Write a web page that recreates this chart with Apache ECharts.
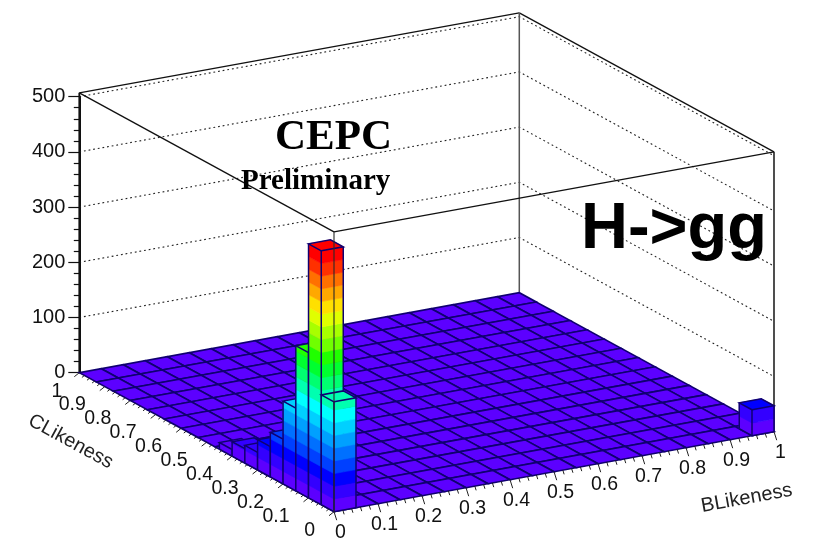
<!DOCTYPE html>
<html>
<head>
<meta charset="utf-8">
<style>html,body{margin:0;padding:0;background:#fff}#c{width:814px;height:538px}</style>
<script src="https://cdn.jsdelivr.net/npm/echarts@6/dist/echarts.min.js"></script>
</head>
<body>
<div id="c"></div>
<script>
// ---- data ----
const zTicks = [0, 100, 200, 300, 400, 500];
const bTickLabels = ['0', '0.1', '0.2', '0.3', '0.4', '0.5', '0.6', '0.7', '0.8', '0.9', '1'];
const cTickLabels = ['0', '0.1', '0.2', '0.3', '0.4', '0.5', '0.6', '0.7', '0.8', '0.9', '1'];
const binCount = 20;
const floorCols = 20;
const floorRows = 15;
const zBoxTop = 507;
const levelStep = 23;
// entries for BLikeness bin 0, CLikeness bins 0..8
const firstRowValues = [199, 460, 263, 150, 81, 55, 32, 26, 12];
// entry for BLikeness bin 19, CLikeness bin 0
const cornerBarValue = 47;
const palette = ['#5c00ff','#3300ff','#0000ff','#0040ff','#0070ff','#00a0ff','#00d0ff','#00ffff','#00ffb0','#00ff70',
                 '#00ff30','#20ff00','#70ff00','#a8ff00','#e0ff00','#ffe000','#ffa800','#ff7000','#ff3000','#ff0000'];

// ---- oblique view of the box, expressed in the units of the chart's axes ----
const viewB = 440, viewC = 254.7, viewW = 694.7, riseB = 80, riseC = 139, pxPerZ = 276 / 500;
function at(api, b, c, z) {
  const xv = (viewC * (1 - c) + viewB * b) / viewW;
  const yv = z + (riseB * b - riseC * (1 - c)) / pxPerZ;
  return api.coord([xv, yv]);
}

// floor cells, then the filled bins back to front
const floorCells = [];
for (let i = floorCols - 1; i >= 0; i--) {
  for (let j = floorRows - 1; j >= 0; j--) floorCells.push([i, j]);
}
const bins = [[binCount - 1, 0, cornerBarValue]];
for (let j = firstRowValues.length - 1; j >= 0; j--) bins.push([0, j, firstRowValues[j]]);

const OUTLINE = '#100070';
function renderFloor(params, api) {
  const i = api.value(0), j = api.value(1);
  const pts = [at(api, i / floorCols, j / floorRows, 0), at(api, (i + 1) / floorCols, j / floorRows, 0),
               at(api, (i + 1) / floorCols, (j + 1) / floorRows, 0), at(api, i / floorCols, (j + 1) / floorRows, 0)];
  return {type: 'polygon', silent: true, shape: {points: pts},
    style: {fill: palette[0], stroke: OUTLINE, lineWidth: 1.6}};
}
function renderBin(params, api) {
  const i = api.value(0), j = api.value(1), v = api.value(2);
  const w = 1 / binCount;
  const b0 = i * w, b1 = (i + 1) * w, c0 = j * w, c1 = (j + 1) * w;
  const kids = [];
  const poly = (pts, col) => kids.push({type: 'polygon', silent: true, shape: {points: pts},
    style: {fill: col, stroke: col, lineWidth: 0.6}});
  const edge = (pts, lw) => kids.push({type: 'polyline', silent: true, shape: {points: pts},
    style: {fill: null, stroke: OUTLINE, lineWidth: lw}});
  const n = Math.ceil(v / levelStep);
  for (let k = 0; k < n; k++) {
    const lo = k * levelStep, hi = Math.min(v, (k + 1) * levelStep);
    const col = palette[Math.min(k, palette.length - 1)];
    poly([at(api, b0, c0, lo), at(api, b0, c1, lo), at(api, b0, c1, hi), at(api, b0, c0, hi)], col);
    poly([at(api, b0, c0, lo), at(api, b1, c0, lo), at(api, b1, c0, hi), at(api, b0, c0, hi)], col);
  }
  const T = [at(api, b0, c0, v), at(api, b1, c0, v), at(api, b1, c1, v), at(api, b0, c1, v)];
  poly(T, palette[Math.min(n - 1, palette.length - 1)]);
  const lw = 1.5;
  edge([T[0], T[1], T[2], T[3], T[0]], lw);
  edge([at(api, b0, c1, 0), at(api, b0, c1, v)], lw);
  edge([at(api, b0, c0, 0), at(api, b0, c0, v)], lw);
  edge([at(api, b1, c0, 0), at(api, b1, c0, v)], lw);
  edge([at(api, b0, c1, 0), at(api, b0, c0, 0), at(api, b1, c0, 0)], lw);
  return {type: 'group', children: kids};
}

function renderGrid(params, api) {
  const z = api.value(0);
  if (z === 0) return {type: 'group', children: []};
  const dot = {stroke: '#222', lineWidth: 1.1, lineDash: [1.8, 2.9], fill: null};
  return {type: 'polyline', silent: true, shape: {points: [at(api, 0, 1, z), at(api, 1, 1, z), at(api, 1, 0, z)]}, style: dot};
}

// box edges, as [b,c,z, b,c,z, width, colour]
const backEdges = [
  [0, 1, zBoxTop, 1, 1, zBoxTop, 1.3, '#111'],
  [1, 1, zBoxTop, 1, 0, zBoxTop, 1.3, '#111'],
  [1, 1, 0, 1, 1, zBoxTop, 1.5, '#555'],
  [1, 0, 0, 1, 0, zBoxTop, 1.6, '#222'],
  [0, 1, 0, 0, 1, zBoxTop, 1.8, '#111']
];
const frontEdges = [
  [0, 1, zBoxTop, 0, 0, zBoxTop, 1.3, '#111'],
  [0, 0, zBoxTop, 1, 0, zBoxTop, 1.3, '#111'],
  [0, 0, 0, 0, 0, zBoxTop, 1.3, 'rgba(40,40,40,0.85)']
];
const edgeStyles = {back: backEdges, front: frontEdges};
function renderEdge(params, api) {
  const p = at(api, api.value(0), api.value(1), api.value(2));
  const q = at(api, api.value(3), api.value(4), api.value(5));
  return {type: 'line', silent: true, shape: {x1: p[0], y1: p[1], x2: q[0], y2: q[1]},
    style: {stroke: edgeStyles[params.seriesName][params.dataIndex][7], lineWidth: api.value(6)}};
}

const AXIS_FONT = '19.5px "Liberation Sans", Arial, sans-serif';
const minorPerMajor = 5;
const tickRows = [];
for (let t = 0; t <= (bTickLabels.length - 1) * minorPerMajor; t++) tickRows.push([t]);

function renderBTick(params, api) {
  const t = api.value(0), major = t % minorPerMajor === 0;
  const f = t / ((bTickLabels.length - 1) * minorPerMajor);
  const p = at(api, f, 0, 0), s = major ? 1 : 0.5;
  const kids = [{type: 'line', silent: true,
    shape: {x1: p[0], y1: p[1], x2: p[0] + 2.7 * s, y2: p[1] + 8.5 * s},
    style: {stroke: '#222', lineWidth: 1}}];
  if (major) kids.push({type: 'text', silent: true, style: {x: p[0] + 6.5, y: p[1] + 21,
    text: bTickLabels[t / minorPerMajor], font: AXIS_FONT, fill: '#111',
    align: 'center', verticalAlign: 'middle', textAlign: 'center', textBaseline: 'middle'}});
  return {type: 'group', children: kids};
}
function renderCTick(params, api) {
  const t = api.value(0), major = t % minorPerMajor === 0;
  const f = t / ((cTickLabels.length - 1) * minorPerMajor);
  const p = at(api, 0, f, 0), s = major ? 1 : 0.5;
  const kids = [{type: 'line', silent: true,
    shape: {x1: p[0], y1: p[1], x2: p[0] - 5 * s, y2: p[1] + 4 * s},
    style: {stroke: '#222', lineWidth: 1}}];
  if (major) kids.push({type: 'text', silent: true, style: {x: p[0] - (f === 1 ? 17 : 19), y: p[1] + 18.5,
    text: cTickLabels[t / minorPerMajor], font: AXIS_FONT, fill: '#111',
    align: 'right', verticalAlign: 'middle', textAlign: 'right', textBaseline: 'middle'}});
  return {type: 'group', children: kids};
}

const chart = echarts.init(document.getElementById('c'), null, {renderer: 'canvas', width: 814, height: 538});
chart.setOption({
  animation: false,
  backgroundColor: '#ffffff',
  tooltip: {show: false},
  grid: {left: 79.3, right: 40, top: 96.7, bottom: 165.3, containLabel: false},
  xAxis: {type: 'value', min: 0, max: 1, show: false},
  yAxis: {
    type: 'value', min: zTicks[0], max: zTicks[zTicks.length - 1], interval: 100,
    axisLine: {show: true, onZero: false, lineStyle: {color: '#111', width: 2}},
    axisTick: {show: true, length: 11, lineStyle: {color: '#111', width: 1.2}},
    minorTick: {show: true, splitNumber: 5, length: 5.5, lineStyle: {color: '#111', width: 1.2}},
    splitLine: {show: false},
    minorSplitLine: {show: false},
    axisLabel: {margin: 14, color: '#111', fontSize: 20, fontFamily: '"Liberation Sans", Arial, sans-serif'}
  },
  graphic: {elements: [
    {type: 'text', z: 100, silent: true, x: 275, y: 116, style: {text: 'CEPC',
      font: 'bold 43px "Liberation Serif", "Times New Roman", serif', fill: '#000'}},
    {type: 'text', z: 100, silent: true, x: 241, y: 167, style: {text: 'Preliminary',
      font: 'bold 29px "Liberation Serif", "Times New Roman", serif', fill: '#000'}},
    {type: 'text', z: 100, silent: true, x: 581, y: 198, style: {text: 'H->gg',
      font: 'bold 65px "Liberation Sans", Arial, sans-serif', fill: '#000'}},
    {type: 'text', z: 100, silent: true, x: 70.7, y: 441.7, rotation: -28.6 * Math.PI / 180, style: {text: 'CLikeness',
      font: '20px "Liberation Sans", Arial, sans-serif', fill: '#222', textAlign: 'center', textBaseline: 'middle', verticalAlign: 'middle', align: 'center'}},
    {type: 'text', z: 100, silent: true, x: 746.7, y: 498.3, rotation: 10.3 * Math.PI / 180, style: {text: 'BLikeness',
      font: '20px "Liberation Sans", Arial, sans-serif', fill: '#222', textAlign: 'center', textBaseline: 'middle', verticalAlign: 'middle', align: 'center'}}
  ]},
  series: [
    {type: 'custom', name: 'grid', data: zTicks.map(z => [z]), renderItem: renderGrid, silent: true, z: 2, encode: {x: 0, y: 0}},
    {type: 'custom', name: 'back', data: backEdges.map(e => e.slice(0, 7)), renderItem: renderEdge, silent: true, z: 3, encode: {x: 0, y: 2}},
    {type: 'custom', name: 'floor', data: floorCells, renderItem: renderFloor, silent: true, z: 4, encode: {x: 0, y: 1}},
    {type: 'custom', name: 'lego', data: bins, renderItem: renderBin, silent: true, z: 5, encode: {x: 0, y: 2}},
    {type: 'custom', name: 'front', data: frontEdges.map(e => e.slice(0, 7)), renderItem: renderEdge, silent: true, z: 6, encode: {x: 0, y: 2}},
    {type: 'custom', name: 'bTicks', data: tickRows, renderItem: renderBTick, silent: true, z: 7, encode: {x: 0, y: 0}},
    {type: 'custom', name: 'cTicks', data: tickRows, renderItem: renderCTick, silent: true, z: 7, encode: {x: 0, y: 0}}
  ]
});
</script>
</body>
</html>
